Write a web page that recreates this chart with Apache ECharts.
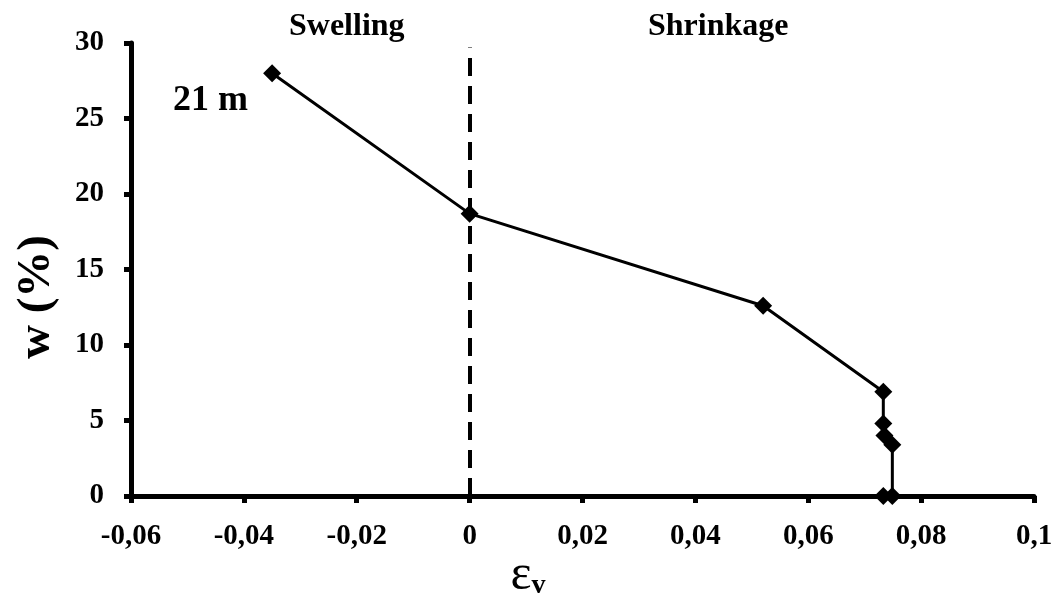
<!DOCTYPE html>
<html>
<head>
<meta charset="utf-8">
<script src="https://cdn.jsdelivr.net/npm/echarts@6/dist/echarts.min.js"></script>
<style>
  html, body { margin: 0; padding: 0; background: #fff; }
  #chart { width: 1056px; height: 603px; }
</style>
</head>
<body>
<div id="chart"></div>
<script>
// volumetric strain (eps_v) vs water content w (%)
const strain = [-0.035, 0, 0.052, 0.0733, 0.0733, 0.0735, 0.0749, 0.0749, 0.0733]
const water = [28, 18.7, 12.6, 6.9, 4.8, 4.0, 3.4, 0, 0]
const zoneLabels = ['Swelling', 'Shrinkage']
const depthLabel = '21 m'

const font = 'Liberation Serif'
const comma = v => String(+v.toFixed(2)).replace('.', ',')

let points = strain.map((x, i) => [x, water[i]])

let option = {
  animation: false,
  grid: {
    left: 131,
    right: 22,
    top: 43,
    bottom: 107
  },
  xAxis: {
    type: 'value',
    min: -0.06,
    max: 0.1,
    interval: 0.02,
    axisLine: { show: true, onZero: false, lineStyle: { color: '#000', width: 5 } },
    axisTick: { show: true, length: 7, lineStyle: { color: '#000', width: 5 } },
    splitLine: { show: false },
    axisLabel: {
      margin: 26,
      fontFamily: font,
      fontWeight: 'bold',
      fontSize: 29,
      color: '#000',
      formatter: comma
    }
  },
  yAxis: {
    type: 'value',
    min: 0,
    max: 30,
    interval: 5,
    axisLine: { show: true, onZero: false, lineStyle: { color: '#000', width: 5 } },
    axisTick: { show: true, length: 7, lineStyle: { color: '#000', width: 5 } },
    splitLine: { show: false },
    axisLabel: {
      margin: 27,
      fontFamily: font,
      fontWeight: 'bold',
      fontSize: 29,
      color: '#000'
    }
  },
  graphic: [
    { type: 'text', x: 289, y: 27, style: { text: zoneLabels[0], font: 'bold 32px "Liberation Serif"', fill: '#000', textVerticalAlign: 'middle' } },
    { type: 'text', x: 648, y: 27, style: { text: zoneLabels[1], font: 'bold 32px "Liberation Serif"', fill: '#000', textVerticalAlign: 'middle' } },
    { type: 'text', x: 173, y: 101, style: { text: depthLabel, font: 'bold 36px "Liberation Serif"', fill: '#000', textVerticalAlign: 'middle' } },
    {
      type: 'text', x: 37, y: 297, rotation: Math.PI / 2,
      style: { text: 'w (%)', font: 'bold 47px "Liberation Serif"', fill: '#000', textAlign: 'center', textVerticalAlign: 'middle' }
    },
    {
      type: 'text', x: 528, y: 576,
      style: {
        text: '{e|ε}{s|v}',
        textAlign: 'center',
        textVerticalAlign: 'middle',
        rich: {
          e: { fontFamily: font, fontSize: 50, fill: '#000' },
          s: { fontFamily: font, fontSize: 28, fontWeight: 'bold', fill: '#000', padding: [20, 0, 0, 0] }
        }
      }
    }
  ],
  series: [{
    type: 'line',
    data: points,
    symbol: 'diamond',
    symbolSize: 18,
    lineStyle: { color: '#000', width: 3 },
    itemStyle: { color: '#000' },
    markLine: {
      silent: true,
      symbol: 'none',
      label: { show: false },
      lineStyle: { color: '#000', width: 4, type: [18, 10] },
      data: [[{ coord: [0, 0] }, { coord: [0, 29.7] }]]
    },
    z: 3
  }]
}

let chart = echarts.init(document.getElementById('chart'))
chart.setOption(option)
</script>
</body>
</html>
